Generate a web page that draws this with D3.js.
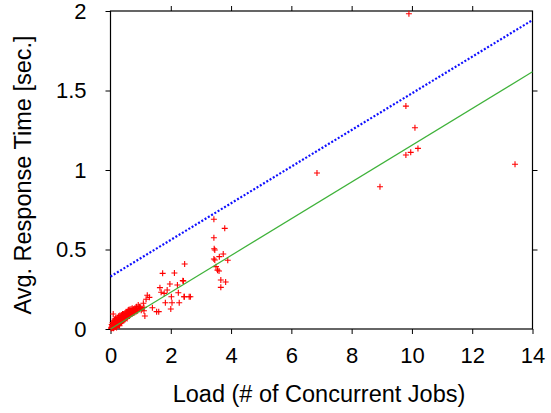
<!DOCTYPE html>
<html>
<head>
<meta charset="utf-8">
<script src="https://cdn.jsdelivr.net/npm/d3@7"></script>
<style>
  body { margin: 0; background: #fff; }
  text { font-family: "Liberation Sans", Arial, sans-serif; fill: #000; }
</style>
</head>
<body>
<svg id="chart" width="551" height="413"></svg>
<script>
// measured samples: [load, avg response time]
const loadSamples = [
  // dense group near the origin
  [0.02,0.005],[0.03,0.010],[0.04,0.004],[0.05,0.012],[0.05,0.020],[0.06,0.008],[0.07,0.015],
  [0.08,0.006],[0.08,0.030],[0.09,0.018],[0.09,0.094],[0.10,0.012],[0.10,0.005],[0.10,0.035],
  [0.11,0.020],[0.12,0.009],[0.12,0.045],[0.13,0.024],[0.14,0.016],[0.15,0.028],[0.15,0.040],
  [0.16,0.013],[0.17,0.030],[0.18,0.021],[0.18,0.055],[0.19,0.035],[0.20,0.018],[0.20,0.010],
  [0.20,0.050],[0.21,0.038],[0.22,0.027],[0.23,0.042],[0.24,0.022],[0.25,0.045],[0.25,0.060],
  [0.26,0.033],[0.27,0.050],[0.28,0.030],[0.29,0.047],[0.30,0.038],[0.30,0.020],[0.31,0.055],
  [0.32,0.036],[0.33,0.058],[0.34,0.045],[0.35,0.062],[0.35,0.075],[0.36,0.040],[0.37,0.066],
  [0.38,0.052],[0.39,0.070],[0.40,0.048],[0.41,0.072],[0.42,0.058],[0.43,0.078],[0.43,0.092],
  [0.44,0.054],[0.45,0.075],[0.45,0.090],[0.46,0.064],[0.47,0.082],[0.48,0.060],[0.50,0.085],
  [0.52,0.070],[0.54,0.090],[0.55,0.066],[0.55,0.100],[0.57,0.095],[0.58,0.078],[0.59,0.119],
  [0.60,0.100],[0.62,0.082],[0.63,0.104],[0.65,0.088],[0.65,0.115],[0.67,0.108],[0.68,0.092],
  [0.70,0.112],[0.72,0.096],[0.74,0.116],[0.76,0.100],[0.78,0.120],[0.80,0.104],[0.81,0.130],
  [0.82,0.126],[0.85,0.110],[0.88,0.130],[0.90,0.115],[0.92,0.151],[0.95,0.125],[1.00,0.135],
  [1.05,0.128],[1.09,0.162],[1.11,0.136],[1.11,0.115],[1.14,0.082],
  [0.04,0.028],[0.07,0.040],[0.11,0.052],[0.14,0.062],[0.17,0.068],[0.22,0.072],[0.27,0.080],
  [0.31,0.085],[0.36,0.088],[0.40,0.095],[0.48,0.100],[0.52,0.108],[0.58,0.112],[0.62,0.122],
  [0.68,0.126],[0.72,0.130],[0.76,0.124],[0.86,0.140],[0.96,0.140],[1.02,0.118],[0.12,0.030],
  [0.24,0.040],[0.33,0.048],[0.38,0.064],[0.50,0.072],[0.60,0.088],[0.70,0.098],[0.84,0.120],
  // middle group
  [1.18,0.187],[1.22,0.212],[1.29,0.199],[1.39,0.134],[1.53,0.109],[1.60,0.109],[1.64,0.260],
  [1.68,0.231],[1.73,0.350],[1.78,0.224],[1.82,0.165],[1.88,0.245],[1.97,0.283],[2.00,0.126],
  [2.02,0.203],[2.04,0.165],[2.12,0.352],[2.22,0.277],[2.25,0.228],[2.28,0.165],[2.42,0.302],
  [2.40,0.304],[2.44,0.203],[2.45,0.203],[2.46,0.409],[2.61,0.203],[2.65,0.203],
  // group around 3.5
  [3.43,0.690],[3.79,0.633],[3.43,0.574],[3.46,0.497],[3.44,0.505],[3.46,0.434],[3.43,0.440],
  [3.61,0.455],[3.74,0.472],[3.89,0.432],[3.50,0.392],[3.60,0.365],[3.55,0.370],[3.66,0.308],
  [3.82,0.296],[3.66,0.262],
  // high load
  [6.85,0.981],[8.94,0.895],[9.80,1.402],[9.90,1.983],[10.10,1.266],[10.20,1.136],
  [9.96,1.111],[9.80,1.094],[13.42,1.036]
];

// fitted line and upper bound, evaluated at the axis ends
const lineLoads = [0, 14];
const fitTimes = [0, 1.618];
const boundTimes = [0.33, 1.943];

const xTicks = [0, 2, 4, 6, 8, 10, 12, 14];
const yTicks = [0, 0.5, 1, 1.5, 2];

const svg = d3.select("#chart");
const margin = { left: 110.5, top: 11, right: 18.5, bottom: 84 };
const W = 551 - margin.left - margin.right;
const H = 413 - margin.top - margin.bottom;

const x = d3.scaleLinear().domain([0, 14]).range([0, W]);
const y = d3.scaleLinear().domain([0, 2]).range([H, 0]);

const g = svg.append("g").attr("transform", `translate(${margin.left},${margin.top})`);

// axes, ticks outward on all four sides
const fmt = d => String(d);
g.append("g").attr("transform", `translate(0,${H})`)
  .call(d3.axisBottom(x).tickValues(xTicks).tickSize(5).tickPadding(13).tickFormat(fmt))
  .call(a => a.selectAll("text").style("font-size", "22px"));
g.append("g")
  .call(d3.axisLeft(y).tickValues(yTicks).tickSize(5).tickPadding(19).tickFormat(fmt))
  .call(a => a.selectAll("text").style("font-size", "22px"));
g.append("g")
  .call(d3.axisTop(x).tickValues(xTicks.slice(1, -1)).tickSize(5).tickFormat(""));
g.append("g").attr("transform", `translate(${W},0)`)
  .call(d3.axisRight(y).tickValues(yTicks.slice(1, -1)).tickSize(5).tickFormat(""));
g.selectAll(".domain").remove();
g.selectAll(".tick line").attr("stroke", "#000");
g.selectAll(".tick text").attr("font-family", "Liberation Sans, Arial, sans-serif");

g.append("rect").attr("width", W).attr("height", H)
  .attr("fill", "none").attr("stroke", "#000").attr("stroke-width", 1.2);

// data crosses
g.append("g").selectAll("path")
  .data(loadSamples)
  .enter().append("path")
  .attr("transform", d => `translate(${x(d[0])},${y(d[1])})`)
  .attr("d", "M-3,0H3M0,-3V3")
  .attr("stroke", "#ff0000")
  .attr("stroke-width", 1.1)
  .attr("fill", "none");

const line = d3.line().x(d => x(d[0])).y(d => y(d[1]));

g.append("path")
  .datum(lineLoads.map((l, i) => [l, fitTimes[i]]))
  .attr("d", line)
  .attr("stroke", "#3fb23a")
  .attr("stroke-width", 1.2)
  .attr("fill", "none");

g.append("path")
  .datum(lineLoads.map((l, i) => [l, boundTimes[i]]))
  .attr("d", line)
  .attr("stroke", "#1010ff")
  .attr("stroke-width", 2.2)
  .attr("stroke-dasharray", "2,1.8")
  .attr("fill", "none");

// axis titles
svg.append("text")
  .attr("x", 319).attr("y", 402)
  .attr("text-anchor", "middle")
  .style("font-size", "23.5px")
  .text("Load (# of Concurrent Jobs)");

svg.append("text")
  .attr("transform", "translate(31,175) rotate(-90)")
  .attr("text-anchor", "middle")
  .style("font-size", "23.5px")
  .text("Avg. Response Time [sec.]");
</script>
</body>
</html>
